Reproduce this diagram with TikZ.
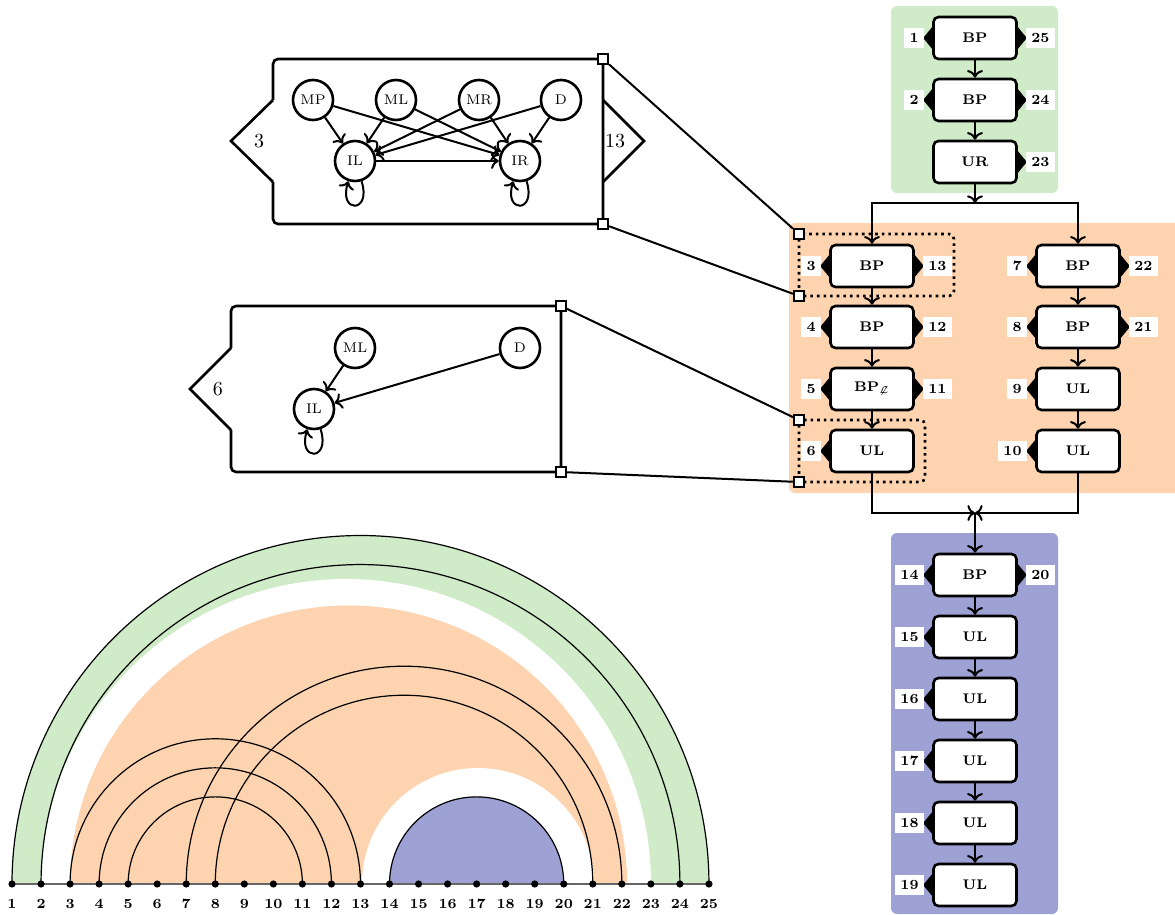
\documentclass[tikz,border=0pt]{standalone}
\usepackage{amsmath,amssymb}
\usetikzlibrary{arrows,arrows.meta,calc,positioning}
\definecolor{verdechiaro}{RGB}{207,235,199}
\definecolor{arancio}{RGB}{254,211,176}
\definecolor{lavanda}{RGB}{158,161,212}

\newcommand{\pinsx}[2]{%
  \fill (#1.west) ++(0,-11) -- ++(-9,11) -- ++(9,11) -- cycle;
  \node[etich, anchor=east] (es#2) at ($(#1.west)+(-8,0)$) {#2};}
\newcommand{\pindx}[2]{%
  \fill (#1.east) ++(0,-11) -- ++(9,11) -- ++(-9,11) -- cycle;
  \node[etich, anchor=west] (ed#2) at ($(#1.east)+(8,0)$) {#2};}

\begin{document}
\begin{tikzpicture}[x=0.5pt,y=-0.5pt,
    spesso/.style={line width=1.3pt},
    blocco/.style={draw, spesso, fill=white, rounded corners=2.5pt,
      minimum width=41.5pt, minimum height=21pt, font=\scriptsize\bfseries},
    etich/.style={fill=white, inner sep=2.6pt, font=\scriptsize\bfseries},
    stato/.style={circle, draw, spesso, fill=white, minimum size=20pt,
      inner sep=0pt, font=\scriptsize},
    quadro/.style={draw, line width=1pt, fill=white, minimum size=5pt, inner sep=0pt},
    numero/.style={font=\scriptsize\bfseries, inner sep=1pt},
    freccia/.style={line width=1pt, ->}]
    \useasboundingbox (0,0) rectangle (1175,915);

    % Sfondi dei tre gruppi
    \fill[verdechiaro, rounded corners=3pt] (891,6) rectangle (1058,193);
    \fill[arancio, rounded corners=3pt] (789,223) rectangle (1182,493);
    \fill[lavanda, rounded corners=3pt] (891,533) rectangle (1058,914);

    % Riquadri tratteggiati
    \draw[spesso, dotted, rounded corners=2.5pt] (799,234) rectangle (954,296);
    \draw[spesso, dotted, rounded corners=2.5pt] (799,420) rectangle (925,482);

    % Blocchi della colonna destra
    \foreach \nome/\x/\y/\testo in {g1/975/38/BP, g2/975/100/BP, g3/975/162/UR,
        o3/872/266/BP, o4/872/327/BP, o5/872/389/{BP$_{\not{\mathcal{L}}}$}, o6/872/451/UL,
        o7/1078/266/BP, o8/1078/327/BP, o9/1078/389/UL, o10/1078/451/UL,
        v14/975/575/BP, v15/975/637/UL, v16/975/699/UL, v17/975/761/UL,
        v18/975/823/UL, v19/975/885/UL}
      \node[blocco] (\nome) at (\x,\y) {\testo};

    % Etichette laterali
    \foreach \nome/\num in {g1/1, g2/2, o3/3, o4/4, o5/5, o6/6, o7/7, o8/8, o9/9,
        o10/10, v14/14, v15/15, v16/16, v17/17, v18/18, v19/19}
      {\pinsx{\nome}{\num}}
    \foreach \nome/\num in {g1/25, g2/24, g3/23, o3/13, o4/12, o5/11, o7/22,
        o8/21, v14/20}
      {\pindx{\nome}{\num}}

    % Collegamenti
    \coordinate (jt) at (975,203);
    \coordinate (jb) at (975,513);
    \draw[freccia] (g1) -- (g2);
    \draw[freccia] (g2) -- (g3);
    \draw[freccia] (g3) -- (jt);
    \draw[freccia] (jt) -| (o3);
    \draw[freccia] (jt) -| (o7);
    \draw[freccia] (o3) -- (o4);
    \draw[freccia] (o4) -- (o5);
    \draw[freccia] (o5) -- (o6);
    \draw[freccia] (o7) -- (o8);
    \draw[freccia] (o8) -- (o9);
    \draw[freccia] (o9) -- (o10);
    \draw[freccia] (o6) |- (jb);
    \draw[freccia] (o10) |- (jb);
    \draw[freccia] (jb) -- (v14);
    \foreach \a/\b in {v14/v15, v15/v16, v16/v17, v17/v18, v18/v19}
      \draw[freccia] (\a) -- (\b);

    % Dettaglio del blocco 3/13
    \draw[spesso, rounded corners=2.5pt] (273,100) -- (273,59) -- (603,59)
      -- (603,224) -- (273,224) -- (273,182);
    \draw[spesso] (273,100) -- (231,141) -- (273,182);
    \draw[spesso] (603,100) -- (644,141) -- (603,182);
    \node (lab3) at (259,141) {3};
    \node (lab13) at (615,141) {13};
    \node[stato] (mp) at (313,100) {MP};
    \node[stato] (ml) at (396,100) {ML};
    \node[stato] (mr) at (479,100) {MR};
    \node[stato] (d) at (561,100) {D};
    \node[stato] (il) at (355,161) {IL};
    \node[stato] (ir) at (520,161) {IR};
    \foreach \a in {mp, ml, mr, d}
      \foreach \b in {il, ir}
        \draw[freccia] (\a) -- (\b);
    \draw[freccia] (il) -- (ir);
    \draw[freccia] (il) to[out=-72, in=-108, distance=17pt] (il);
    \draw[freccia] (ir) to[out=-72, in=-108, distance=17pt] (ir);

    % Dettaglio del blocco 6
    \draw[spesso, rounded corners=2.5pt] (231,348) -- (231,306) -- (561,306)
      -- (561,472) -- (231,472) -- (231,430);
    \draw[spesso] (231,348) -- (190,389) -- (231,430);
    \node (lab6) at (218,389) {6};
    \node[stato] (mlb) at (355,348) {ML};
    \node[stato] (db) at (520,348) {D};
    \node[stato] (ilb) at (314,409) {IL};
    \draw[freccia] (mlb) -- (ilb);
    \draw[freccia] (db) -- (ilb);
    \draw[freccia] (ilb) to[out=-72, in=-108, distance=17pt] (ilb);

    % Quadratini e raccordi
    \node[quadro] (qa) at (603,59) {};
    \node[quadro] (qb) at (603,224) {};
    \node[quadro] (qc) at (561,306) {};
    \node[quadro] (qd) at (561,472) {};
    \node[quadro] (ra) at (799,234) {};
    \node[quadro] (rb) at (799,296) {};
    \node[quadro] (rc) at (799,420) {};
    \node[quadro] (rd) at (799,482) {};
    \draw[line width=1pt] (qa) -- (ra);
    \draw[line width=1pt] (qb) -- (rb);
    \draw[line width=1pt] (qc) -- (rc);
    \draw[line width=1pt] (qd) -- (rd);

    % Diagramma ad archi
    \foreach \i in {1,...,25} {
      \pgfmathsetmacro\xp{12+29.04*(\i-1)}
      \coordinate (p\i) at (\xp,884);
      \node[numero] (n\i) at (\xp,904) {\i};
    }
    \fill[verdechiaro] (p1) arc[start angle=180, end angle=360, radius=348.5] -- cycle;
    \fill[white] (p2) arc[start angle=180, end angle=360, radius=305] -- cycle;
    \fill[arancio] (p3) arc[start angle=180, end angle=360, radius=278.5] -- cycle;
    \fill[white] (362,884) arc[start angle=180, end angle=360, radius=116] -- cycle;
    \fill[lavanda] (p14) arc[start angle=180, end angle=360, radius=87.12] -- cycle;
    \foreach \a/\b in {1/25, 2/24, 3/13, 4/12, 5/11, 7/22, 8/21, 14/20}
      \draw[semithick] (p\a) arc[start angle=180, end angle=360, radius={14.52*(\b-\a)}];
    \draw[line width=1pt, black!60] (p1) -- (p25);
    \foreach \i in {1,...,25}
      \fill (p\i) circle (3.6);
\end{tikzpicture}
\end{document}
